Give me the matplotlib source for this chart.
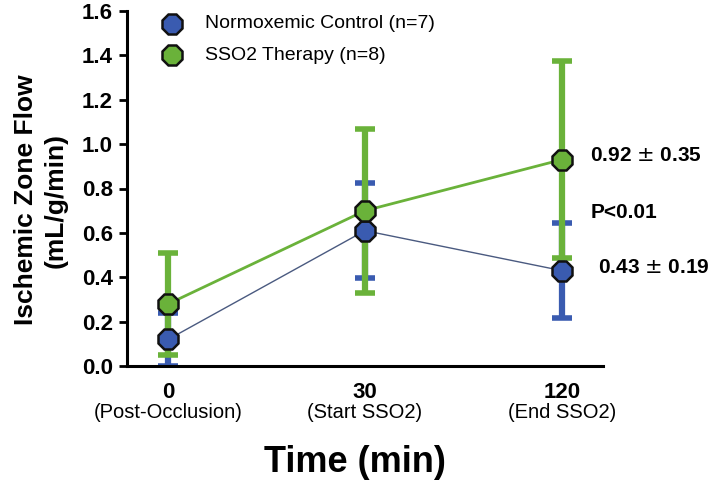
import matplotlib
matplotlib.use("Agg")
import matplotlib.pyplot as plt
from matplotlib.transforms import blended_transform_factory

plt.rcParams['font.family'] = ['Liberation Sans', 'DejaVu Sans']

time_labels = ["0", "30", "120"]
phase_labels = ["(Post-Occlusion)", "(Start SSO2)", "(End SSO2)"]
control_mean = [0.12, 0.61, 0.43]
control_err = [0.12, 0.215, 0.215]
sso2_mean = [0.28, 0.70, 0.93]
sso2_err = [0.23, 0.37, 0.445]
series_names = ["Normoxemic Control (n=7)", "SSO2 Therapy (n=8)"]
yticks = [0.0, 0.2, 0.4, 0.6, 0.8, 1.0, 1.2, 1.4, 1.6]

blue = "#3a5bb0"
green = "#6ab23a"
x = list(range(len(time_labels)))

fig = plt.figure(figsize=(7.13, 4.84), dpi=100)
ax = fig.add_axes([127/713, 1-366/484, 476/713, 355/484])

# error bars
ax.errorbar(x, control_mean, yerr=control_err, fmt='none', ecolor=blue,
            elinewidth=4.5, capsize=7, capthick=4, zorder=2)
ax.errorbar(x, sso2_mean, yerr=sso2_err, fmt='none', ecolor=green,
            elinewidth=4.5, capsize=7, capthick=4, zorder=3)
# lines
ax.plot(x, control_mean, color="#4a5a80", lw=1.0, zorder=4)
ax.plot(x, sso2_mean, color=green, lw=2.0, zorder=4)
# markers
ax.plot(x, control_mean, ls='none', marker='8', ms=16, mfc=blue, mec='#111111',
        mew=1.8, zorder=5)
ax.plot(x, sso2_mean, ls='none', marker='8', ms=16, mfc=green, mec='#111111',
        mew=1.8, zorder=6)

ax.set_xlim(-0.21, 2.21)
ax.set_ylim(0, 1.6)
ax.set_yticks(yticks)
ax.set_yticklabels([f"{v:.1f}" for v in yticks], fontsize=16, fontweight='bold')
ax.tick_params(axis='y', direction='out', length=6, width=2, pad=4)
ax.tick_params(axis='x', length=0, labelbottom=False)
for s in ['top', 'right']:
    ax.spines[s].set_visible(False)
for s in ['left', 'bottom']:
    ax.spines[s].set_linewidth(2.2)
ax.spines['left'].set_bounds(0, 1.6)

# x tick labels
tr = blended_transform_factory(ax.transData, ax.transAxes)
for xi, t, p in zip(x, time_labels, phase_labels):
    ax.text(xi, -0.045, t, transform=tr, ha='center', va='top', fontsize=16,
            fontweight='bold')
    ax.text(xi, -0.105, p, transform=tr, ha='center', va='top', fontsize=14.5)

fig.text(355/713, 1-462/484, "Time (min)", ha='center', va='center',
         fontsize=26, fontweight='bold')
fig.text(26/713, 1-200/484, "Ischemic Zone Flow", rotation=90, ha='center',
         va='center', fontsize=19, fontweight='bold')
fig.text(56/713, 1-200/484, "(mL/g/min)", rotation=90, ha='center',
         va='center', fontsize=19, fontweight='bold')

# legend (manual)
for i, (name, col) in enumerate(zip(series_names, [blue, green])):
    yy = 1 - (24 + 31 * i) / 484
    fig.lines.append(plt.Line2D([172/713], [yy], marker='8', ms=16, mfc=col,
                                mec='#111111', mew=1.8, transform=fig.transFigure))
    fig.text(205/713, yy, name, ha='left', va='center', fontsize=14)

# annotations
ax.text(2.145, sso2_mean[2] + 0.02, "0.92 $\\pm$ 0.35", ha='left', va='center',
        fontsize=15, fontweight='bold')
ax.text(2.145, 0.69, "P<0.01", ha='left', va='center', fontsize=15,
        fontweight='bold')
ax.text(2.185, 0.445, "0.43 $\\pm$ 0.19", ha='left', va='center',
        fontsize=15, fontweight='bold')

fig.savefig("out.png", dpi=100)
